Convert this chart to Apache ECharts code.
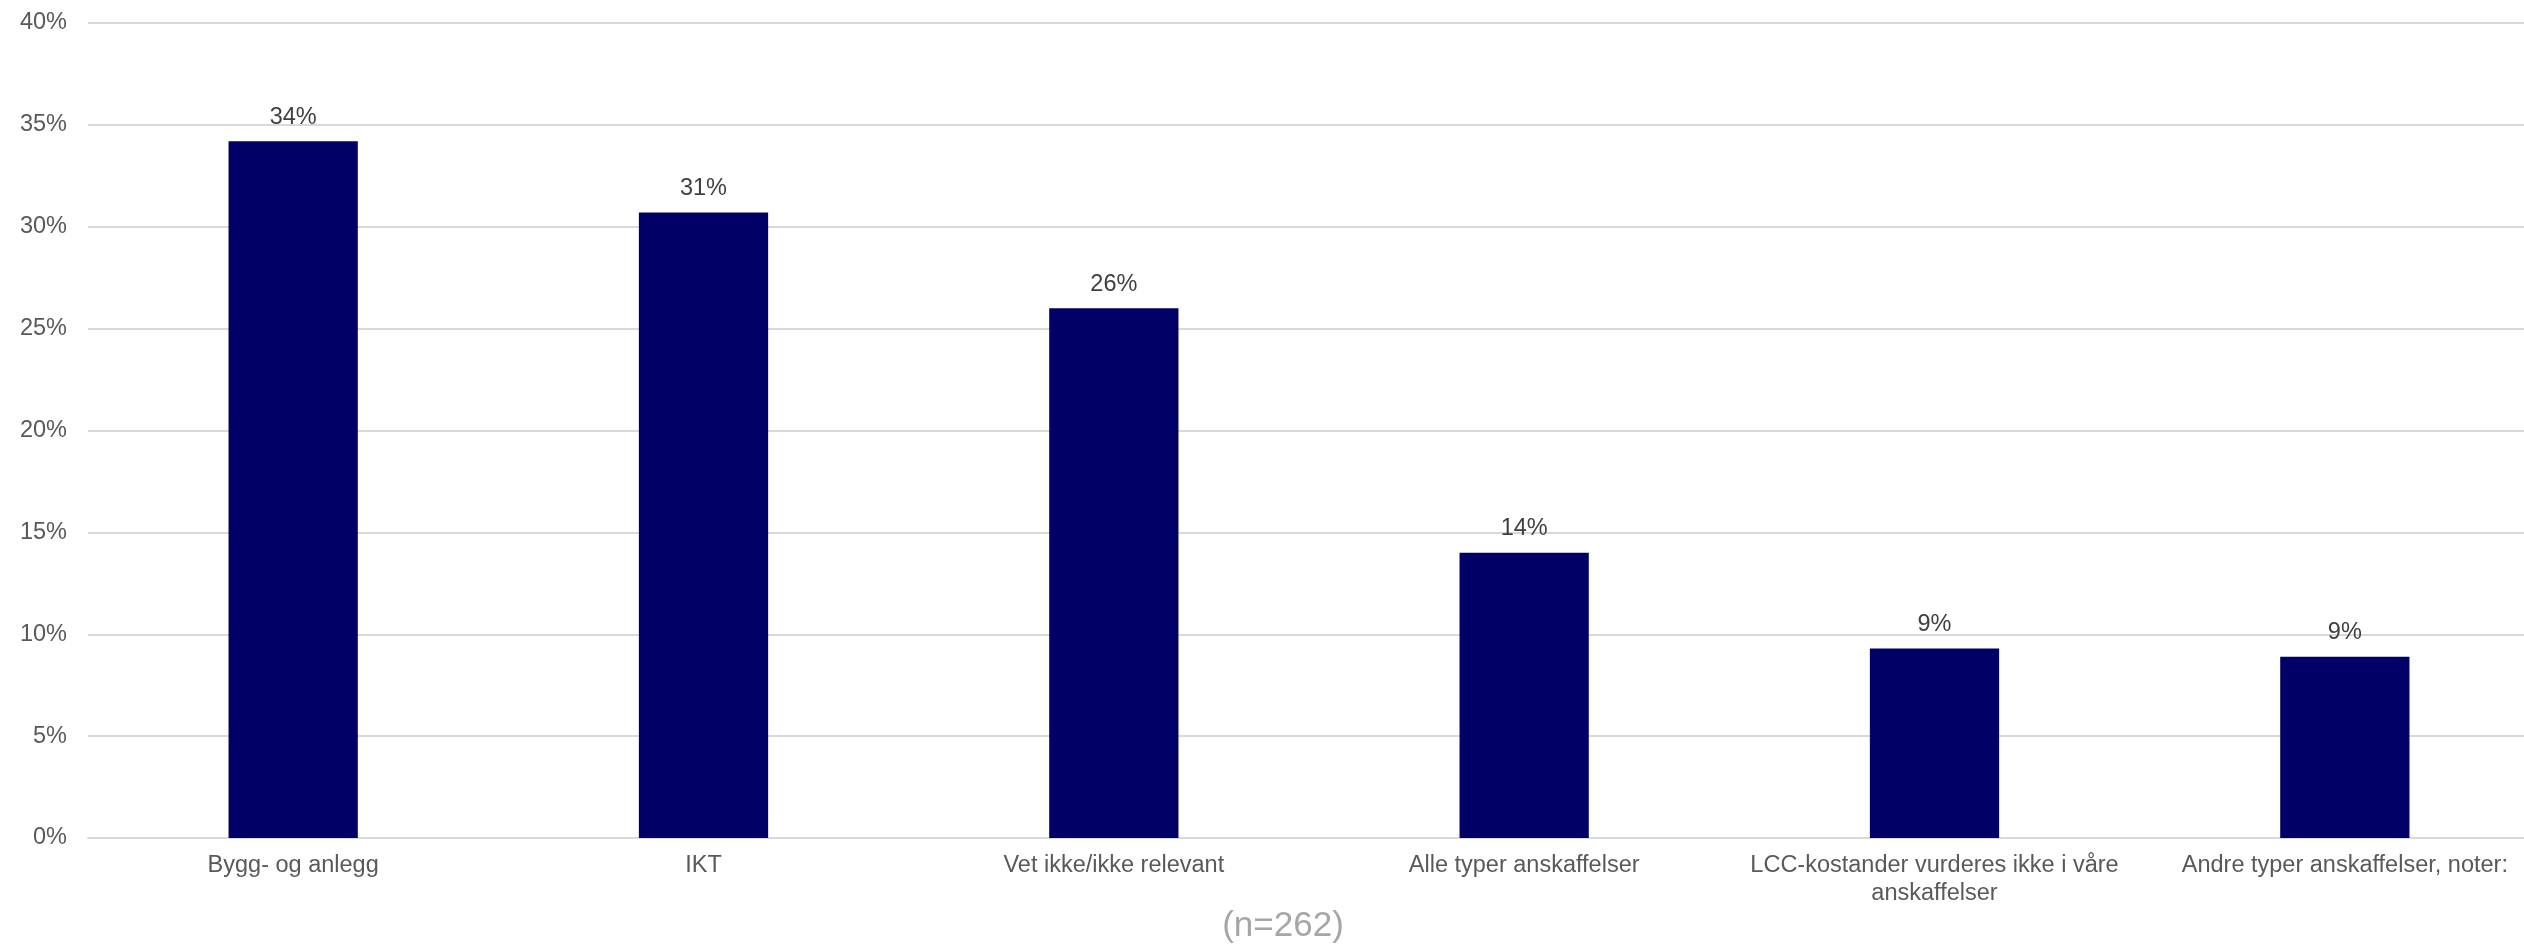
<!DOCTYPE html>
<html>
<head>
<meta charset="utf-8">
<script src="https://cdn.jsdelivr.net/npm/echarts@6/dist/echarts.min.js"></script>
<style>
  html, body { margin: 0; padding: 0; background: #fff; }
  #chart { width: 2524px; height: 946px; }
</style>
</head>
<body>
<div id="chart"></div>
<script>
var categories = [
  "Bygg- og anlegg",
  "IKT",
  "Vet ikke/ikke relevant",
  "Alle typer anskaffelser",
  "LCC-kostander vurderes ikke i våre\nanskaffelser",
  "Andre typer anskaffelser, noter:"
];
var values = [34.2, 30.7, 26.0, 14.0, 9.3, 8.9];
var yTicks = [0, 5, 10, 15, 20, 25, 30, 35, 40];
var note = "(n=262)";

var font = "'Liberation Sans', Arial, sans-serif";
var myChart = echarts.init(document.getElementById("chart"));
var option = {
  animation: false,
  // plot runs a bit past the right edge, as in the original
  grid: {
    left: 88,
    width: 2462,
    top: 23,
    bottom: 108,
    containLabel: false,
    outerBoundsMode: "none"
  },
  xAxis: {
    type: "category",
    data: categories,
    axisLine: { show: true, lineStyle: { color: "#d9d9d9", width: 2 } },
    axisTick: { show: false },
    axisLabel: {
      interval: 0,
      color: "#595959",
      fontFamily: font,
      fontSize: 23.5,
      lineHeight: 28,
      margin: 14
    }
  },
  yAxis: {
    type: "value",
    min: yTicks[0],
    max: yTicks[yTicks.length - 1],
    interval: 5,
    axisLine: { show: false },
    axisTick: { show: false },
    splitLine: { lineStyle: { color: "#d9d9d9", width: 2 } },
    axisLabel: {
      formatter: "{value}%",
      color: "#595959",
      fontFamily: font,
      fontSize: 23.5,
      margin: 21
    }
  },
  series: [
    {
      type: "bar",
      data: values,
      barWidth: "31.5%",
      itemStyle: { color: "#000066" },
      label: {
        show: true,
        position: "top",
        distance: 12,
        color: "#404040",
        fontFamily: font,
        fontSize: 23.5,
        formatter: function (e) {
          return Math.round(e.value) + "%";
        }
      }
    }
  ],
  graphic: [
    {
      type: "text",
      x: 1283,
      y: 926,
      style: {
        text: note,
        fill: "#a6a6a6",
        font: "35px " + font,
        align: "center",
        verticalAlign: "middle"
      }
    }
  ]
};
myChart.setOption(option);
</script>
</body>
</html>
